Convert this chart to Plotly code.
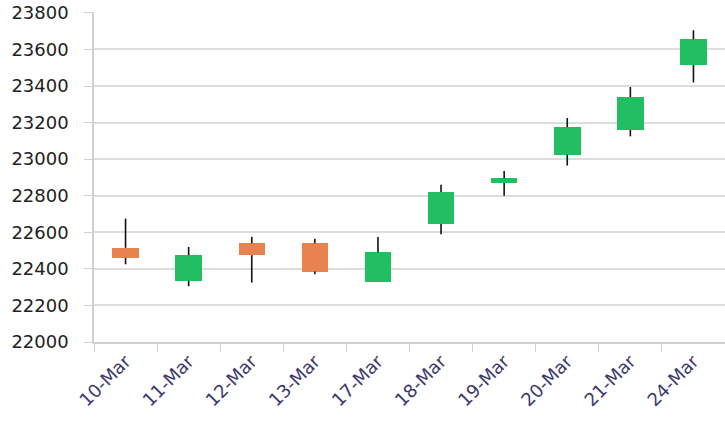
import plotly.graph_objects as go

dates = ["10-Mar", "11-Mar", "12-Mar", "13-Mar", "17-Mar",
         "18-Mar", "19-Mar", "20-Mar", "21-Mar", "24-Mar"]
open_ = [22515, 22335, 22540, 22540, 22330, 22645, 22870, 23025, 23160, 23515]
high = [22675, 22520, 22575, 22565, 22575, 22860, 22935, 23225, 23395, 23705]
low = [22425, 22305, 22325, 22370, 22330, 22590, 22800, 22965, 23125, 23420]
close = [22460, 22475, 22475, 22385, 22490, 22820, 22895, 23175, 23340, 23655]

UP = "#22BE62"
DOWN = "#E8834F"

body_base = [min(o, c) for o, c in zip(open_, close)]
body_h = [abs(c - o) for o, c in zip(open_, close)]
body_col = [UP if c >= o else DOWN for o, c in zip(open_, close)]

wx, wy = [], []
for d, o, h, l, c in zip(dates, open_, high, low, close):
    top, bot = max(o, c), min(o, c)
    wx += [d, d, None, d, d, None]
    wy += [h, top, None, bot, l, None]

fig = go.Figure()
fig.add_trace(go.Scatter(x=wx, y=wy, mode="lines",
                         line=dict(color="#111111", width=1.6),
                         hoverinfo="skip", showlegend=False))
fig.add_trace(go.Bar(x=dates, y=body_h, base=body_base, width=0.42,
                     marker=dict(color=body_col, line=dict(width=0)),
                     showlegend=False))

fig.update_layout(
    width=725, height=423,
    margin=dict(l=94, r=0, t=12, b=81),
    paper_bgcolor="white", plot_bgcolor="white",
    font=dict(family="DejaVu Sans", color="#222222"),
    bargap=0,
)
fig.update_xaxes(
    type="category", categoryorder="array", categoryarray=dates,
    tickson="boundaries", ticks="outside", ticklen=8, tickcolor="#d0d0d0",
    showline=True, linecolor="#d0d0d0", linewidth=1.5,
    showgrid=False, tickangle=-45, automargin=False,
    tickfont=dict(size=18, color="#3b3a6e", family="DejaVu Sans"),
)
fig.update_yaxes(
    range=[22000, 23805], dtick=200, tick0=22000, tickformat="d",
    showgrid=True, gridcolor="#dddddd", gridwidth=1.5,
    showline=True, linecolor="#d0d0d0", linewidth=1.5,
    ticks="outside", ticklen=8, tickcolor="#d0d0d0",
    ticklabelstandoff=12, automargin=False,
    zeroline=False,
    tickfont=dict(size=18, color="#222222", family="DejaVu Sans"),
)

fig.write_html("out.html",
               config={"displayModeBar": False},
               post_script="document.body.style.margin='0';"
                           "document.body.style.overflow='hidden';")
